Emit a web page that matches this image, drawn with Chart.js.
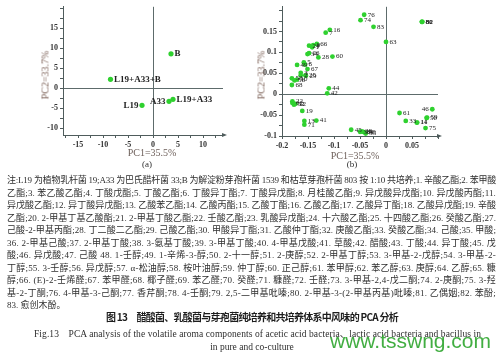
<!DOCTYPE html>
<html>
<head>
<meta charset="utf-8">
<script src="https://cdn.jsdelivr.net/npm/chart.js@4.4.0/dist/chart.umd.min.js"></script>
<style>
  body { margin: 0; background: #fff; }
  #page { position: relative; width: 502px; height: 355px; overflow: hidden; background: #fff;
          font-family: "Liberation Serif", "Noto Sans CJK SC", serif; color: #2e2e2e; }
  canvas { position: absolute; top: 0; }
  .t { position: absolute; white-space: nowrap; transform: translate(-50%, -50%); }
  .ytitle { transform: translate(-50%, -50%) rotate(-90deg); }
  .ln { position: absolute; left: 7px; width: max-content; white-space: nowrap; font-size: 9px; line-height: 12px; }
  .ttl { font-family: "Noto Sans CJK SC", sans-serif; font-weight: bold; font-size: 10px; color: #1e1e1e; }
  .wm { position: absolute; left: 330px; top: 330px; font-family: "Liberation Sans", sans-serif;
        font-size: 21px; line-height: 21px; color: rgba(45, 165, 45, 0.9); white-space: nowrap; }
</style>
</head>
<body>
<div id="page">
  <canvas id="pcaA" width="230" height="160" style="left:0"></canvas>
  <canvas id="pcaB" width="272" height="160" style="left:230px"></canvas>

  <div class="t ytitle" style="left:45px;top:75px;font-size:10px;color:#7d6258">PC2=33.7%</div>
  <div class="t" style="left:152px;top:152px;font-size:10px;color:#6e605b">PC1=35.5%</div>
  <div class="t ytitle" style="left:261px;top:75px;font-size:10px;color:#7d6258">PC2=33.7%</div>
  <div class="t" style="left:355px;top:155px;font-size:10px;color:#6e605b">PC1=35.5%</div>
  <div class="t" style="left:147px;top:164px;font-size:9px">(a)</div>
  <div class="t" style="left:352px;top:164px;font-size:9px">(b)</div>

  <span class="ln fit" data-w="489" style="top:174px">注:L19 为植物乳杆菌 19;A33 为巴氏醋杆菌 33;B 为解淀粉芽孢杆菌 1539 和枯草芽孢杆菌 803 按 1:10 共培养;1. 辛酸乙酯;2. 苯甲酸</span>
  <span class="ln fit" data-w="489" style="top:186.5px">乙酯;3. 苯乙酸乙酯;4. 丁酸戊酯;5. 丁酸乙酯;6. 丁酸异丁酯;7. 丁酸异戊酯;8. 月桂酸乙酯;9. 异戊酸异戊酯;10. 异戊酸丙酯;11.</span>
  <span class="ln fit" data-w="489" style="top:199px">异戊酸乙酯;12. 异丁酸异戊酯;13. 乙酸苯乙酯;14. 乙酸丙酯;15. 乙酸丁酯;16. 乙酸乙酯;17. 乙酸异丁酯;18. 乙酸异戊酯;19. 辛酸</span>
  <span class="ln fit" data-w="489" style="top:211.5px">乙酯;20. 2-甲基丁基乙酸酯;21. 2-甲基丁酸乙酯;22. 壬酸乙酯;23. 乳酸异戊酯;24. 十六酸乙酯;25. 十四酸乙酯;26. 癸酸乙酯;27.</span>
  <span class="ln fit" data-w="489" style="top:224px">己酸-2-甲基丙酯;28. 丁二酸二乙酯;29. 己酸乙酯;30. 甲酸异丁酯;31. 乙酸仲丁酯;32. 庚酸乙酯;33. 癸酸乙酯;34. 己酸;35. 甲酸;</span>
  <span class="ln fit" data-w="489" style="top:236.5px">36. 2-甲基己酸;37. 2-甲基丁酸;38. 3-氨基丁酸;39. 3-甲基丁酸;40. 4-甲基戊酸;41. 草酸;42. 醋酸;43. 丁酸;44. 异丁酸;45. 戊</span>
  <span class="ln fit" data-w="489" style="top:249px">酸;46. 异戊酸;47. 己酸 48. 1-壬醇;49. 1-辛烯-3-醇;50. 2-十一醇;51. 2-庚醇;52. 2-甲基丁醇;53. 3-甲基-2-戊醇;54. 3-甲基-2-</span>
  <span class="ln fit" data-w="489" style="top:261.5px">丁醇;55. 3-壬醇;56. 异戊醇;57. α-松油醇;58. 桉叶油醇;59. 仲丁醇;60. 正己醇;61. 苯甲醇;62. 苯乙醇;63. 庚醇;64. 乙醇;65. 糠</span>
  <span class="ln fit" data-w="489" style="top:274px">醇;66. (E)-2-壬烯醛;67. 苯甲醛;68. 椰子醛;69. 苯乙醛;70. 癸醛;71. 糠醛;72. 壬醛;73. 3-甲基-2,4-戊二酮;74. 2-庚酮;75. 3-羟</span>
  <span class="ln fit" data-w="489" style="top:286.5px">基-2-丁酮;76. 4-甲基-3-己酮;77. 香芹酮;78. 4-壬酮;79. 2,5-二甲基吡嗪;80. 2-甲基-3-(2-甲基丙基)吡嗪;81. 乙偶姻;82. 苯酚;</span>
  <span class="ln" style="top:299px">83. 愈创木酚。</span>

  <span class="ln ttl fit" data-w="292" style="left:106px;top:311px">图 13　醋酸菌、乳酸菌与芽孢菌纯培养和共培养体系中风味的 PCA 分析</span>
  <span class="ln fit" data-w="447" style="left:34px;top:328px;font-size:9.5px">Fig.13　PCA analysis of the volatile aroma components of acetic acid bacteria、lactic acid bacteria and bacillus in</span>
  <div class="t" style="left:252px;top:347px;font-size:9.5px">in pure and co-culture</div>

  <div class="wm">www.tsswng.com</div>
</div>

<script>
// (a) 样品得分
const samplesA = ["B", "L19+A33+B", "L19", "A33", "L19+A33"];
const pc1A = [3.6, -8.5, -2.2, 3.2, 4.0];
const pc2A = [8.6, 2.2, -4.3, -3.3, -2.8];
const xTicksA = [-15, -10, -5, 0, 5, 10];
const yTicksA = [-10, -5, 0, 5, 10, 15];

// (b) 风味物质载荷 (编号见注)
const compoundsB = ["76", "74", "83", "63", "80", "81", "82", "16", "7", "24", "9", "66", "1",
  "34", "26", "28", "60", "49", "5", "6", "67", "3", "2", "25", "29", "58", "56", "10", "68",
  "44", "42", "22", "62", "52", "12", "19", "13", "71", "41", "45", "36", "38", "39", "40", "35",
  "61", "46", "50", "59", "33", "14", "11", "75"];
const pc1B = [-0.042, -0.049, -0.024, 0.000, 0.069, 0.069, 0.070, -0.108, -0.116, -0.148, -0.140, -0.133, -0.142,
  -0.151, -0.148, -0.130, -0.103, -0.171, -0.158, -0.156, -0.151, -0.164, -0.164, -0.155, -0.154, -0.181, -0.176, -0.171, -0.181,
  -0.110, -0.113, -0.180, -0.180, -0.177, -0.174, -0.161, -0.157, -0.157, -0.134, -0.067, -0.050, -0.047, -0.044, -0.040, -0.039,
  0.026, 0.089, 0.078, 0.079, 0.038, 0.059, 0.060, 0.076];
const pc2B = [0.190, 0.177, 0.161, 0.125, 0.173, 0.173, 0.173, 0.154, 0.147, 0.116, 0.117, 0.120, 0.112,
  0.096, 0.098, 0.088, 0.090, 0.070, 0.076, 0.071, 0.060, 0.051, 0.045, 0.045, 0.044, 0.038, 0.033, 0.035, 0.022,
  0.014, 0.002, -0.017, -0.021, -0.025, -0.023, -0.040, -0.064, -0.073, -0.063, -0.085, -0.090, -0.089, -0.090, -0.092, -0.094,
  -0.045, -0.036, -0.057, -0.056, -0.064, -0.068, -0.068, -0.081];
const xTicksB = [-0.2, -0.15, -0.1, -0.05, 0, 0.05];
const yTicksB = [-0.1, -0.05, 0, 0.05, 0.1, 0.15];

const leftLabels = ["L19", "A33", "46"];
const axisColor = "#4f5c5c";

// 点旁标注 + x 轴箭头
const pointLabels = {
  id: "pointLabels",
  afterDatasetsDraw(chart, args, opts) {
    const ctx = chart.ctx;
    ctx.save();
    ctx.font = opts.font;
    ctx.fillStyle = "#222";
    ctx.textBaseline = "middle";
    chart.getDatasetMeta(0).data.forEach((pt, i) => {
      const txt = opts.labels[i];
      const left = leftLabels.includes(txt);
      ctx.textAlign = left ? "right" : "left";
      ctx.fillText(txt, pt.x + (left ? -opts.gap : opts.gap), pt.y);
    });
    const a = chart.chartArea;
    ctx.fillStyle = axisColor;
    ctx.beginPath();
    ctx.moveTo(a.right + 4, a.bottom);
    ctx.lineTo(a.right - 1, a.bottom - 2);
    ctx.lineTo(a.right - 1, a.bottom + 2);
    ctx.fill();
    ctx.restore();
  }
};

function axis(min, max, step, labelTicks, fixed, isY) {
  return {
    type: "linear",
    min: min,
    max: max,
    afterBuildTicks: s => {
      const half = step / 2;
      const t = [];
      for (let k = Math.ceil(min / half - 1e-9); k * half <= max + 1e-9; k++) {
        t.push({ value: Math.round(k * half * 1000) / 1000 });
      }
      s.ticks = t;
    },
    afterFit: s => {
      if (isY) s.width = fixed; else s.height = fixed;
    },
    ticks: {
      autoSkip: false,
      maxRotation: 0,
      padding: 2,
      color: "#333",
      font: { family: "Liberation Serif", size: 8, weight: "bold" },
      callback: v => labelTicks.some(l => Math.abs(l - v) < 1e-6) ? String(v) : ""
    },
    grid: {
      drawOnChartArea: true,
      color: c => (c.tick && Math.abs(c.tick.value) < 1e-9) ? "#5d6b6b" : "rgba(0,0,0,0)",
      tickColor: axisColor,
      tickLength: 3
    },
    border: { display: true, color: axisColor, width: 1 }
  };
}

function pcaChart(id, xs, ys, labels, opts) {
  const pts = xs.map((x, i) => ({ x: x, y: ys[i] }));
  return new Chart(document.getElementById(id), {
    type: "scatter",
    data: {
      datasets: [{
        data: pts,
        pointRadius: opts.radius,
        pointBackgroundColor: "#2fd12f",
        pointBorderWidth: 0
      }]
    },
    options: {
      responsive: false,
      animation: false,
      devicePixelRatio: 1,
      layout: { padding: { top: 5, right: opts.padRight, left: 0, bottom: 0 } },
      plugins: {
        legend: { display: false },
        tooltip: { enabled: false },
        pointLabels: { labels: labels, font: opts.labelFont, gap: opts.gap }
      },
      scales: { x: opts.x, y: opts.y }
    },
    plugins: [pointLabels]
  });
}

pcaChart("pcaA", pc1A, pc2A, samplesA, {
  radius: 2.6, padRight: 7, gap: 3.5,
  labelFont: "bold 9px 'Liberation Serif'",
  x: axis(-18, 14, 5, xTicksA, 25, false),
  y: axis(-11.75, 20.4, 5, yTicksA, 63, true)
});

pcaChart("pcaB", pc1B, pc2B, compoundsB, {
  radius: 2.4, padRight: 64, gap: 3.5,
  labelFont: "7px 'Liberation Serif'",
  x: axis(-0.2, 0.1, 0.05, xTicksB, 24, false),
  y: axis(-0.1, 0.209, 0.05, yTicksB, 52, true)
});

// 注释文字两端对齐 (按文字实际宽度反复修正)
function textWidth(el) {
  const r = document.createRange();
  r.selectNodeContents(el);
  return r.getBoundingClientRect().width;
}
function fitLines() {
  document.querySelectorAll(".fit").forEach(el => {
    const target = parseFloat(el.dataset.w);
    const n = Array.from(el.textContent).length;
    let ls = 0;
    for (let pass = 0; pass < 4; pass++) {
      el.style.letterSpacing = ls + "px";
      ls += (target - textWidth(el)) / (n - 1);
    }
    el.style.letterSpacing = ls + "px";
  });
}
fitLines();
if (document.fonts && document.fonts.ready) document.fonts.ready.then(fitLines);
</script>
</body>
</html>
